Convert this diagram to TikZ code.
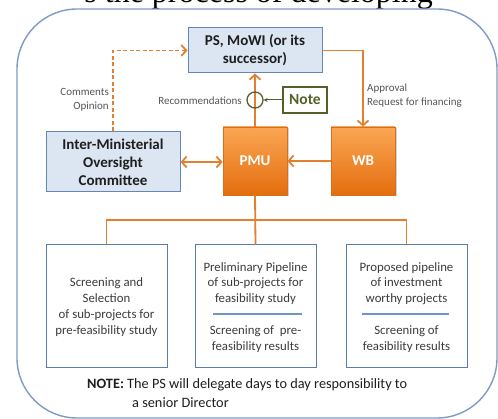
\documentclass[tikz,border=0pt]{standalone}
\usepackage{fontspec}
\setmainfont{Carlito}
\newfontfamily\titlefont{Liberation Serif}
\usetikzlibrary{arrows.meta,shadows,calc}
\definecolor{oline}{RGB}{228,128,45}
\definecolor{odraw}{RGB}{214,112,30}
\definecolor{otop}{RGB}{250,166,84}
\definecolor{obot}{RGB}{228,110,14}
\definecolor{bfill}{RGB}{220,230,242}
\definecolor{bdraw}{RGB}{100,135,185}
\definecolor{wdraw}{RGB}{90,125,175}
\definecolor{sepblue}{RGB}{110,150,200}
\definecolor{outerc}{RGB}{125,155,195}
\definecolor{ngreen}{RGB}{80,98,40}
\definecolor{tgray}{RGB}{60,60,60}
\definecolor{lgray}{RGB}{85,85,85}
\definecolor{dtext}{RGB}{30,30,30}
\begin{document}
\begin{tikzpicture}[x=1pt,y=-1pt,
  bluebox/.style={draw=bdraw, fill=bfill, line width=1pt, align=center, text=dtext,
    font=\bfseries\fontsize{15}{18}\selectfont, inner sep=0pt},
  orbox/.style={draw=odraw, top color=otop, bottom color=obot, line width=0.8pt, text=white,
    font=\bfseries\fontsize{15}{18}\selectfont, minimum width=64pt, minimum height=68pt,
    drop shadow={shadow xshift=1.5pt, shadow yshift=-1.5pt, opacity=0.35}},
  wbox/.style={draw=wdraw, fill=white, line width=1pt, minimum width=121pt, minimum height=123pt, inner sep=0pt},
  btext/.style={align=center, font=\fontsize{12.8}{15.8}\selectfont, text=tgray, inner sep=0pt},
  conn/.style={draw=oline, line width=1.8pt},
  tip/.style={-{Straight Barb[length=5pt,width=11pt]}},
  lab/.style={font=\fontsize{11}{14}\selectfont, text=lgray, inner sep=0pt},
]
\useasboundingbox (0,0) rectangle (498,419);
% cropped title
\node[anchor=base east, inner sep=0pt, font=\titlefont\fontsize{32}{36}\selectfont, text=black] (title) at (433,2.5) {s the process of developing};
% outer frame
\draw[outerc, line width=1.4pt, rounded corners=60pt] (17,9) rectangle (497,418);
% main nodes
\node[bluebox, minimum width=134pt, minimum height=45pt] (ps) at (255,50.5) {PS, MoWI (or its\\successor)};
\node[bluebox, minimum width=134pt, minimum height=60pt] (imoc) at (113,162) {Inter-Ministerial\\Oversight\\Committee};
\node[orbox] (pmu) at (255,161) {PMU};
\node[orbox] (wb) at (363,161) {WB};
% bottom boxes
\node[wbox] (b1) at (106.5,306.5) {};
\node[wbox] (b2) at (255.5,306.5) {};
\node[wbox] (b3) at (406.5,306.5) {};
\node[btext] (t1) at (106.5,307) {Screening and\\Selection\\of sub-projects for\\pre-feasibility study};
\node[btext] (t2a) at (255.5,283.5) {Preliminary Pipeline\\of sub-projects for\\feasibility study};
\node[btext] (t2b) at (255.5,339) {Screening of\ \ pre-\\feasibility results};
\node[btext] (t3a) at (406.5,283.5) {Proposed pipeline\\of investment\\worthy projects};
\node[btext] (t3b) at (406.5,339) {Screening of\\feasibility results};
\draw[sepblue, line width=1.5pt] (213,314) -- (302,314);
\draw[sepblue, line width=1.5pt] (362,314) -- (449,314);
% connectors
\draw[conn, dashed, dash pattern=on 4pt off 2.5pt, tip] (imoc.north) -- (imoc.north |- ps.west) -- (ps.west);
\draw[conn, tip] (pmu.north) -- (ps.south);
\draw[conn, tip] (ps.east) -| (wb.north);
\draw[conn, {Straight Barb[length=5pt,width=11pt]}-{Straight Barb[length=5pt,width=11pt]}] (imoc.east) -- (imoc.east -| pmu.west);
\draw[conn, tip] (wb.west) -- (pmu.east);
\coordinate (bus) at (255,220);
\draw[conn] (pmu.south) -- (b2.north);
\draw[conn] (b1.north) -- (b1.north |- bus) -- (b3.north |- bus) -- (b3.north);
% recommendation marker
\node[circle, draw=ngreen, line width=1.3pt, minimum size=16pt, inner sep=0pt] (rec) at (255,100) {};
\node[draw=ngreen, line width=1.2pt, fill=white, text=ngreen, font=\bfseries\fontsize{15.5}{17}\selectfont,
  minimum width=44pt, minimum height=26pt, inner sep=0pt] (note) at (305,100) {Note};
\draw[ngreen, line width=1pt, -{Stealth[length=4pt,width=4pt]}] (note.west) -- (rec.east);
% labels
\node[lab, anchor=east] (recl) at (242,101) {Recommendations};
\node[lab, anchor=east, align=right] (comm) at (109,100) {Comments\\Opinion};
\node[lab, anchor=west, align=left] (appr) at (367,96) {Approval\\Request for financing};
% note
\node[anchor=base west, inner sep=0pt, font=\fontsize{14.3}{16}\selectfont, text=dtext] (note1) at (87,389) {\textbf{NOTE:} The PS will delegate days to day responsibility to};
\node[anchor=base west, inner sep=0pt, font=\fontsize{14.3}{16}\selectfont, text=dtext] (note2) at (132,407) {a senior Director};
\end{tikzpicture}
\end{document}
